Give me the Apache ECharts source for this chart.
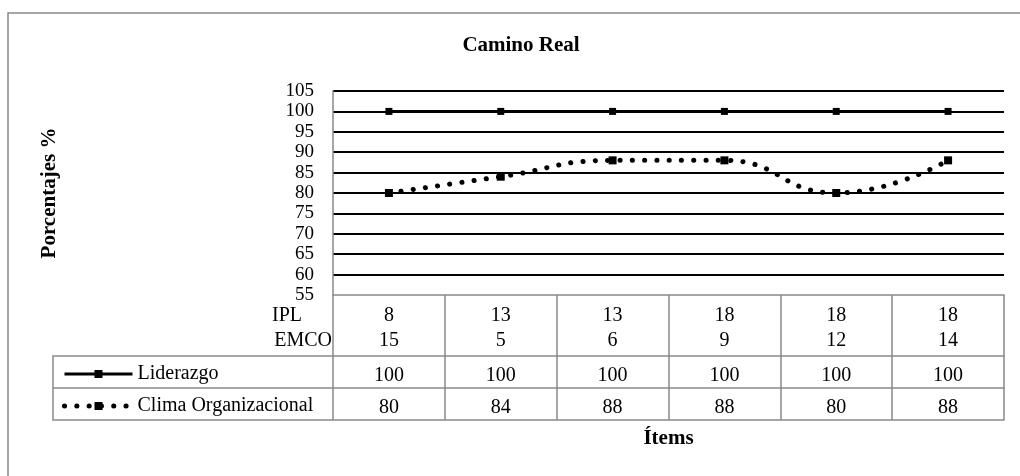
<!DOCTYPE html>
<html>
<head>
<meta charset="utf-8">
<script src="https://cdn.jsdelivr.net/npm/echarts@6/dist/echarts.min.js"></script>
<style>
html, body { margin: 0; padding: 0; background: #fff; }
#chart { width: 1020px; height: 476px; }
</style>
</head>
<body>
<div id="chart"></div>
<script>
// Items on the horizontal axis (one column each in the data table)
const items = ['1', '2', '3', '4', '5', '6'];
// Row values shown under the plot
const iplRow = [8, 13, 13, 18, 18, 18];
const emcoRow = [15, 5, 6, 9, 12, 14];
// Series values (percent)
const liderazgo = [100, 100, 100, 100, 100, 100];
const clima = [80, 84, 88, 88, 80, 88];
// Vertical scale
const yMin = 55, yMax = 105, yStep = 5;

const SERIF = '"Liberation Serif", "Times New Roman", serif';
const GRAY = '#898989';
const GRID = { left: 333, right: 16, top: 91, bottom: 181 };

const solidLine = { color: '#000', width: 3 };
const dottedLine = { color: '#000', width: 5, type: [0.1, 12.2], cap: 'round' };

const chart = echarts.init(document.getElementById('chart'), null, { renderer: 'canvas' });

function tableAxis(offset, rowValues, opts) {
  return Object.assign({
    type: 'category',
    data: items,
    gridIndex: 0,
    position: 'bottom',
    offset: offset,
    boundaryGap: true,
    axisLine: { show: true, onZero: false, lineStyle: { color: GRAY, width: 1.5 } },
    axisTick: { show: true, interval: 0, length: 32, lineStyle: { color: GRAY, width: 1.5 } },
    axisLabel: {
      show: !!rowValues, interval: 0, margin: 10,
      color: '#000', fontFamily: SERIF, fontSize: 20,
      formatter: (v, i) => rowValues ? String(rowValues[i]) : ''
    },
    splitLine: { show: false }
  }, opts || {});
}

const option = {
  animation: false,
  backgroundColor: '#fff',
  title: {
    text: 'Camino Real',
    left: 521, top: 35, padding: 0,
    textAlign: 'center',
    textStyle: { fontFamily: SERIF, fontSize: 21, fontWeight: 'bold', color: '#000' }
  },
  grid: GRID,
  legend: {
    data: [
      { name: 'Liderazgo', lineStyle: solidLine, itemStyle: { color: '#000' } },
      { name: 'Clima Organizacional', lineStyle: dottedLine, itemStyle: { color: '#000' } }
    ],
    orient: 'vertical',
    left: 62, top: 364,
    itemWidth: 68, itemHeight: 10, itemGap: 12,
    padding: 0,
    textStyle: { fontFamily: SERIF, fontSize: 20, color: '#000' }
  },
  xAxis: [
    // plot axis: table top line, IPL row and column dividers
    tableAxis(0, iplRow, {
      axisTick: { show: true, interval: 0, length: 61, lineStyle: { color: GRAY, width: 1.5 } },
      axisLabel: {
        show: true, interval: 0, margin: 11, color: '#000', fontFamily: SERIF, fontSize: 20,
        formatter: (v, i) => String(iplRow[i])
      }
    }),
    // EMCO row
    tableAxis(0, emcoRow, {
      axisLine: { show: false, onZero: false },
      axisTick: { show: false },
      axisLabel: {
        show: true, interval: 0, margin: 36, color: '#000', fontFamily: SERIF, fontSize: 20,
        formatter: (v, i) => String(emcoRow[i])
      }
    }),
    // Liderazgo row
    tableAxis(61, liderazgo),
    // Clima Organizacional row
    tableAxis(93, clima),
    // bottom line of the table and axis title
    tableAxis(125, null, {
      axisTick: { show: false },
      axisLabel: { show: false },
      name: 'Ítems',
      nameLocation: 'middle',
      nameGap: 8,
      nameTextStyle: { fontFamily: SERIF, fontSize: 21, fontWeight: 'bold', color: '#000' }
    })
  ],
  yAxis: {
    type: 'value',
    min: yMin, max: yMax, interval: yStep,
    name: 'Porcentajes %',
    nameLocation: 'middle',
    nameGap: 273,
    nameRotate: 90,
    nameTextStyle: { fontFamily: SERIF, fontSize: 21, fontWeight: 'bold', color: '#000' },
    axisLine: { show: true, lineStyle: { color: GRAY, width: 1.5 } },
    axisTick: { show: false },
    axisLabel: { margin: 19, color: '#000', fontFamily: SERIF, fontSize: 19 },
    splitLine: { show: true, showMinLine: false, showMaxLine: true, lineStyle: { color: '#000', width: 2 } }
  },
  series: [
    {
      name: 'Liderazgo',
      type: 'line',
      xAxisIndex: 0,
      data: liderazgo,
      symbol: 'rect',
      symbolSize: 7,
      itemStyle: { color: '#000' },
      lineStyle: solidLine,
      z: 3
    },
    {
      name: 'Clima Organizacional',
      type: 'line',
      xAxisIndex: 0,
      data: clima,
      smooth: 0.5,
      symbol: 'rect',
      symbolSize: 8,
      itemStyle: { color: '#000' },
      lineStyle: dottedLine,
      z: 3
    }
  ],
  graphic: [
    // chart frame
    { type: 'rect', shape: { x: 8, y: 13, width: 1100, height: 600 },
      style: { fill: 'none', stroke: GRAY, lineWidth: 1.5 }, silent: true, z: -1 },
    // legend cells of the data table
    { type: 'polyline', shape: { points: [[333, 356], [53, 356], [53, 420], [333, 420]] },
      style: { fill: 'none', stroke: GRAY, lineWidth: 1.5 }, silent: true },
    { type: 'line', shape: { x1: 53, y1: 388, x2: 333, y2: 388 },
      style: { stroke: GRAY, lineWidth: 1.5 }, silent: true },
    // row headers
    { type: 'text', x: 302, y: 316,
      style: { text: 'IPL', align: 'right', verticalAlign: 'middle', fill: '#000', font: '20px ' + SERIF } },
    { type: 'text', x: 332, y: 341,
      style: { text: 'EMCO', align: 'right', verticalAlign: 'middle', fill: '#000', font: '20px ' + SERIF } }
  ]
};

chart.setOption(option);
</script>
</body>
</html>
